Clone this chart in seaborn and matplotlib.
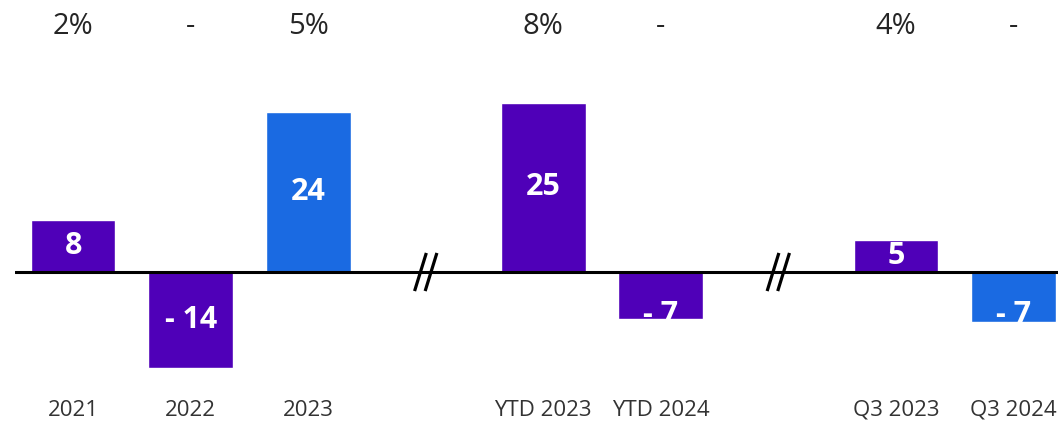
import pandas as pd
import numpy as np
import matplotlib
matplotlib.use("Agg")
import matplotlib.pyplot as plt
import seaborn as sns

# Chart data (bar heights, labels as printed)
categories = ['2021', '2022', '2023', 'YTD 2023', 'YTD 2024', 'Q3 2023', 'Q3 2024']
values = [7.7, -14.1, 23.6, 24.9, -6.9, 4.7, -7.4]
pct_labels = ['2%', '-', '5%', '8%', '-', '4%', '-']
value_labels = ['8', '- 14', '24', '25', '- 7', '5', '- 7']
bar_colors = ['#4F00B8', '#4F00B8', '#1A6AE2', '#4F00B8', '#4F00B8', '#4F00B8', '#1A6AE2']

# slot order with two empty slots used for the axis breaks
order = ['2021', '2022', '2023', 'gap1', 'YTD 2023', 'YTD 2024', 'gap2', 'Q3 2023', 'Q3 2024']

df = pd.DataFrame({'period': categories, 'value': values})
palette = dict(zip(categories, bar_colors))

sns.set_style('white')
plt.rcParams['font.family'] = ['Open Sans', 'DejaVu Sans']

fig = plt.figure(figsize=(10.58, 4.21), dpi=100)
ax = fig.add_axes([15 / 1058, 0, 1 - 15 / 1058, 1])

sns.barplot(data=df, x='period', y='value', hue='period', order=order,
            palette=palette, width=0.72, legend=False, saturation=1, ax=ax)

ppu = 6.8  # pixels per unit
ax.set_xlim(-0.495, 8.38)
ax.set_ylim(-149 / ppu, 272 / ppu)
ax.axhline(0, color='black', lw=2.2, zorder=3)
for s in ax.spines.values():
    s.set_visible(False)
ax.set_xticks([])
ax.set_yticks([])
ax.set_xlabel('')
ax.set_ylabel('')

pos = {c: order.index(c) for c in order}
bars = [p for p in ax.patches if p.get_height() != 0]
bars = sorted(bars, key=lambda p: p.get_x())

for bar, cat, v, vl, pl in zip(bars, categories, values, value_labels, pct_labels):
    x = pos[cat]
    # value inside the bar
    y = v / 2 if v > 0 else min(v / 2, -6.3)
    t = ax.text(x, y, vl, ha='center', va='center', color='white',
                fontsize=22, fontweight='bold', zorder=4)
    t.set_clip_path(bar)
    # percentage row on top
    ax.text(x, 0.938, pl, transform=ax.get_xaxis_transform(), ha='center',
            va='center', fontsize=21, color='#252525')
    # category label at the bottom
    ax.text(x, 0.026, cat, transform=ax.get_xaxis_transform(), ha='center',
            va='center', fontsize=16, color='#333333')

# axis break marks
for b in [pos['gap1'], pos['gap2']]:
    for off in (-0.045, 0.045):
        ax.plot([b + off - 0.05, b + off + 0.05], [-2.8, 2.8], color='black',
                lw=2.3, solid_capstyle='butt', zorder=5)

fig.savefig('out.png', dpi=100)
